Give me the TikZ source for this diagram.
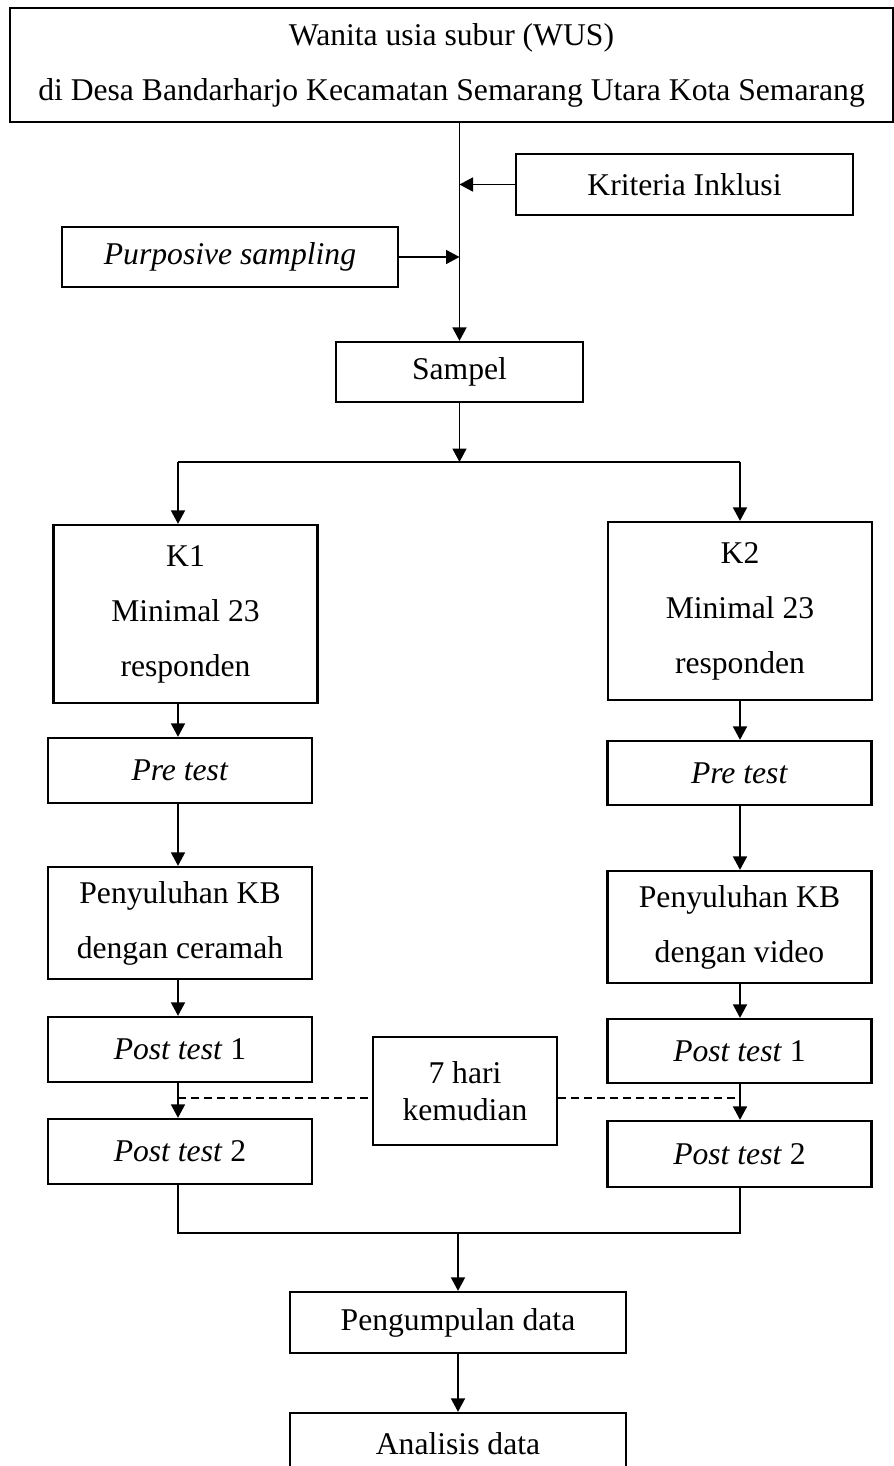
\documentclass[tikz,border=0pt]{standalone}
\usepackage{fontspec}
\setmainfont{Liberation Serif}
\usetikzlibrary{arrows.meta}

\begin{document}
\begin{tikzpicture}[
    box/.style={rectangle, draw, line width=1.3pt, inner sep=0pt, align=center, font=\fontsize{18}{31.3}\selectfont},
    wide/.style={minimum width=6.72cm, minimum height=1.22cm},
    col/.style={minimum width=5.28cm},
    arrow/.style={-{Triangle[width=0.28cm, length=0.27cm]}, line width=1pt},
    link/.style={line width=1pt},
    gap/.style={line width=1pt, dash pattern=on 0.16cm off 0.1cm}
]
    \useasboundingbox (0,0) rectangle (17.88,-29.32);

    % Population
    \node[box, minimum width=17.66cm, minimum height=2.28cm] (wus) at (9.03,-1.3) {Wanita usia subur (WUS)\\di Desa Bandarharjo Kecamatan Semarang Utara Kota Semarang};
    \node[box, minimum width=6.74cm, minimum height=1.22cm] (krit) at (13.69,-3.69) {Kriteria Inklusi};
    \node[box, wide, minimum height=1.2cm] (purp) at (4.6,-5.14) {\textit{Purposive sampling}};
    \node[box, minimum width=4.94cm, minimum height=1.2cm] (sampel) at (9.19,-7.44) {Sampel};

    \draw[arrow] (sampel.north |- wus.south) -- (sampel.north);
    \draw[arrow] (krit.west) -- (krit.west -| sampel.north);
    \draw[arrow] (purp.east) -- (purp.east -| sampel.north);

    % Split into two groups
    \coordinate (bl) at (3.56,-9.24);
    \coordinate (br) at (14.8,-9.24);
    \draw[arrow] (sampel.south) -- (sampel.south |- bl);
    \draw[link] (bl) -- (br);

    % K1
    \node[box, col, minimum height=3.56cm] (k1) at (3.71,-12.28) {K1\\Minimal 23\\responden};
    \node[box, col, minimum height=1.3cm] (pre1) at (3.6,-15.41) {\textit{Pre test}};
    \node[box, col, minimum height=2.24cm] (pen1) at (3.6,-18.46) {Penyuluhan KB\\dengan ceramah};
    \node[box, col, minimum height=1.3cm] (posta1) at (3.6,-20.99) {\textit{Post test} 1};
    \node[box, col, minimum height=1.3cm] (postb1) at (3.6,-23.03) {\textit{Post test} 2};

    % K2
    \node[box, col, minimum height=3.56cm] (k2) at (14.8,-12.22) {K2\\Minimal 23\\responden};
    \node[box, col, minimum height=1.28cm] (pre2) at (14.79,-15.46) {\textit{Pre test}};
    \node[box, col, minimum height=2.24cm] (pen2) at (14.79,-18.54) {Penyuluhan KB\\dengan video};
    \node[box, col, minimum height=1.28cm] (posta2) at (14.79,-21.02) {\textit{Post test} 1};
    \node[box, col, minimum height=1.32cm] (postb2) at (14.79,-23.08) {\textit{Post test} 2};

    % Interval
    \node[box, font=\fontsize{18}{21}\selectfont, minimum width=3.68cm, minimum height=2.16cm] (hari) at (9.3,-21.82) {7 hari\\kemudian};

    % Arrows left
    \draw[arrow] (bl) -- (bl |- k1.north);
    \draw[arrow] (bl |- k1.south) -- (bl |- pre1.north);
    \draw[arrow] (bl |- pre1.south) -- (bl |- pen1.north);
    \draw[arrow] (bl |- pen1.south) -- (bl |- posta1.north);
    \draw[arrow] (bl |- posta1.south) -- (bl |- postb1.north);

    % Arrows right
    \draw[arrow] (br) -- (br |- k2.north);
    \draw[arrow] (br |- k2.south) -- (br |- pre2.north);
    \draw[arrow] (br |- pre2.south) -- (br |- pen2.north);
    \draw[arrow] (br |- pen2.south) -- (br |- posta2.north);
    \draw[arrow] (br |- posta2.south) -- (br |- postb2.north);

    % Dashed link
    \coordinate (dl) at (3.56,-21.96);
    \draw[gap] (dl) -- (dl -| hari.west);
    \draw[gap] (dl -| hari.east) -- (dl -| br);

    % Merge
    \node[box, wide] (kumpul) at (9.16,-26.45) {Pengumpulan data};
    \node[box, wide] (analisis) at (9.16,-28.87) {Analisis data};

    \coordinate (ml) at (3.56,-24.66);
    \draw[link] (bl |- postb1.south) -- (ml) -- (ml -| br) -- (br |- postb2.south);
    \draw[arrow] (ml -| kumpul.north) -- (kumpul.north);
    \draw[arrow] (kumpul.south) -- (analisis.north);
\end{tikzpicture}
\end{document}
